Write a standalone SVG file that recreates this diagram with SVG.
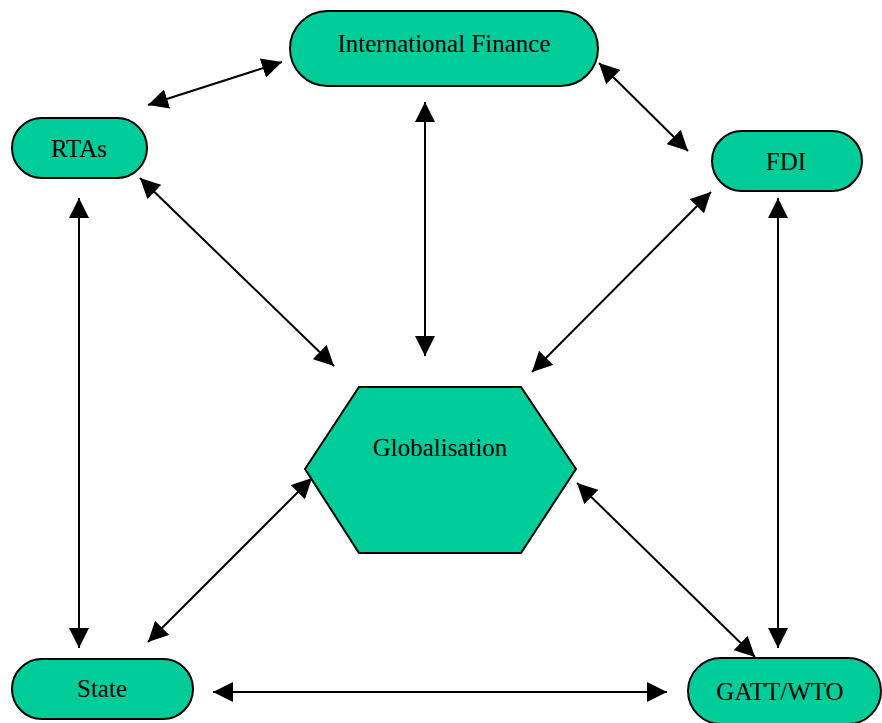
<svg xmlns="http://www.w3.org/2000/svg" width="882" height="723" viewBox="0 0 882 723">
<defs>
<marker id="ah" markerUnits="userSpaceOnUse" markerWidth="20" markerHeight="20" viewBox="0 0 19 19" refX="19" refY="9.5" orient="auto-start-reverse">
<path d="M0,0 L19,9.5 L0,19 z" fill="#000"/>
</marker>
<style>
.n{fill:#00CC99;stroke:#000;stroke-width:2}
.t{font-family:"Liberation Serif","Times New Roman",serif;font-size:25px;fill:#000;text-anchor:middle}
.c line{stroke:#000;stroke-width:2;marker-start:url(#ah);marker-end:url(#ah)}
</style>
</defs>
<rect width="882" height="723" fill="#fff"/>
<g id="connectors" class="c">
<line x1="148" y1="105" x2="282" y2="62"/>
<line x1="599" y1="63" x2="688" y2="151"/>
<line x1="425" y1="102" x2="425" y2="356"/>
<line x1="140" y1="178" x2="334" y2="366"/>
<line x1="711" y1="192" x2="532" y2="372"/>
<line x1="79" y1="198" x2="79" y2="648"/>
<line x1="778" y1="198" x2="778" y2="648"/>
<line x1="148" y1="642" x2="312" y2="478"/>
<line x1="577" y1="483" x2="755" y2="657"/>
<line x1="213" y1="692" x2="667" y2="692"/>
</g>
<g id="intfin">
<rect class="n" x="290" y="11" width="308" height="75" rx="37.5"/>
<text class="t" x="444" y="52">International Finance</text>
</g>
<g id="rtas">
<rect class="n" x="12" y="118" width="135" height="60" rx="30"/>
<text class="t" x="79" y="157">RTAs</text>
</g>
<g id="fdi">
<rect class="n" x="712" y="131" width="150" height="60" rx="30"/>
<text class="t" x="786" y="170">FDI</text>
</g>
<g id="globalisation">
<polygon class="n" points="359,387 521,387 576,469 521,553 359,553 305,469"/>
<text class="t" x="440" y="456">Globalisation</text>
</g>
<g id="state">
<rect class="n" x="12" y="659" width="181" height="60" rx="30"/>
<text class="t" x="102" y="697">State</text>
</g>
<g id="gatt">
<rect class="n" x="688" y="658" width="193" height="66" rx="33"/>
<text class="t" x="780" y="700">GATT/WTO</text>
</g>
</svg>
